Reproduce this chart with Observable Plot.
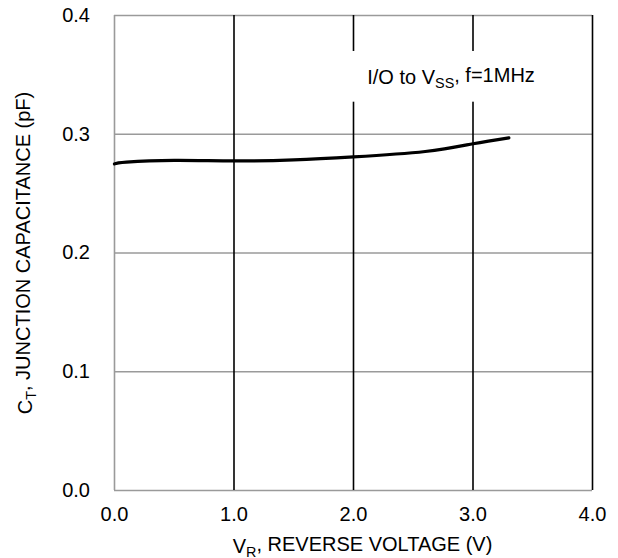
<!DOCTYPE html>
<html>
<head>
<meta charset="utf-8">
<script src="https://cdn.jsdelivr.net/npm/d3@7"></script>
<script src="https://cdn.jsdelivr.net/npm/@observablehq/plot@0.6"></script>
<style>
  html, body { margin: 0; padding: 0; background: #fff; }
  svg { display: block; }
</style>
</head>
<body>
<div id="chart"></div>
<script>
const voltage = [0, 0.1, 0.5, 1.0, 1.5, 2.0, 2.6, 3.0, 3.3];
const capacitance = [0.275, 0.2765, 0.278, 0.2775, 0.2785, 0.281, 0.2855, 0.292, 0.297];
const xTicks = [0, 1, 2, 3, 4];
const yTicks = [0, 0.1, 0.2, 0.3, 0.4];
const verticalLines = [1, 2, 3, 4];
const xLabel = ["V", "R", ", REVERSE VOLTAGE (V)"];
const yLabel = ["C", "T", ", JUNCTION CAPACITANCE (pF)"];
const annotation = ["I/O to V", "SS", ", f=1MHz"];

const data = voltage.map((v, i) => ({v, c: capacitance[i]}));
const font = "Liberation Sans, Arial, sans-serif";
const tickFs = 20;
const labelFs = 20;

const chart = Plot.plot({
  width: 618,
  height: 558,
  marginLeft: 114,
  marginRight: 26,
  marginTop: 15,
  marginBottom: 68,
  style: {fontFamily: font, fontSize: tickFs + "px", background: "#fff", color: "#000"},
  x: {domain: [0, 4], ticks: xTicks, tickFormat: d3.format(".1f"), tickSize: 0, tickPadding: 16, label: null},
  y: {domain: [0, 0.4], ticks: yTicks, tickFormat: d3.format(".1f"), tickSize: 0, tickPadding: 24.5, label: null},
  marks: [
    Plot.ruleY(yTicks, {stroke: "#9a9a9a", strokeWidth: 1.6}),
    Plot.ruleX([0], {stroke: "#9a9a9a", strokeWidth: 1.6}),
    Plot.ruleX(verticalLines, {stroke: "#000", strokeWidth: 1.6}),
    Plot.rect([0], {x1: 1.85, x2: 3.7, y1: 0.327, y2: 0.3697, fill: "#fff"}),
    Plot.text([annotation.join("")], {x: 2.115, y: 0.3479, text: d => d, textAnchor: "start", fontSize: labelFs, className: "annot"}),
    Plot.line(data, {x: "v", y: "c", curve: "natural", stroke: "#000", strokeWidth: 3.2}),
    Plot.text([xLabel.join("")], {frameAnchor: "bottom", textAnchor: "middle", lineAnchor: "bottom", dy: 62, dx: 9, text: d => d, fontSize: labelFs, className: "xlab"}),
    Plot.text([yLabel.join("")], {frameAnchor: "left", textAnchor: "middle", dx: -89, rotate: -90, text: d => d, fontSize: labelFs, className: "ylab"})
  ]
});

function subscript(cls, parts) {
  const t = d3.select(chart).select("g." + cls + " text");
  if (t.empty()) return;
  t.text(null);
  t.append("tspan").text(parts[0]);
  t.append("tspan").attr("font-size", "0.72em").attr("dy", "0.3em").text(parts[1]);
  t.append("tspan").attr("dy", "-0.3em").text(parts[2]);
}
subscript("annot", annotation);
subscript("xlab", xLabel);
subscript("ylab", yLabel);

document.getElementById("chart").appendChild(chart);
</script>
</body>
</html>
